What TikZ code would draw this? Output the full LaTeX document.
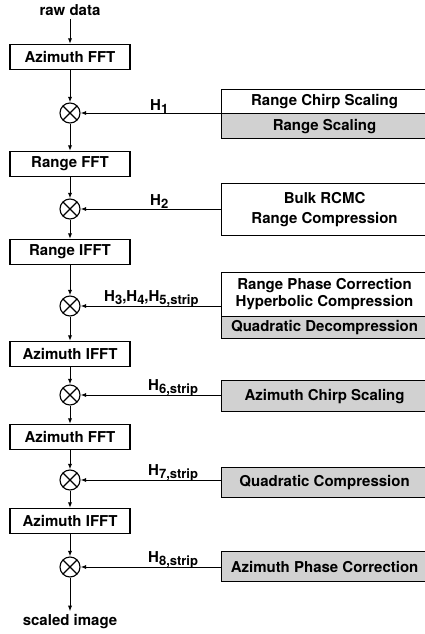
\documentclass[tikz,border=0pt]{standalone}
\usepackage{fontspec}
\setmainfont{TeX Gyre Heros}
\usetikzlibrary{arrows.meta,positioning,calc}

\newcommand{\hsub}[1]{H\raisebox{-0.45ex}{\fontsize{13}{13}\selectfont #1}}

\begin{document}
\begin{tikzpicture}[x=1pt,y=-1pt,
  every node/.style={font=\fontsize{15}{17}\selectfont\bfseries},
  op/.style={draw=black,line width=1.1pt,minimum width=120pt,minimum height=25pt,inner sep=0pt},
  mul/.style={draw=black,circle,line width=1.1pt,minimum size=20pt,inner sep=0pt,
    path picture={\draw[line width=1.1pt] (path picture bounding box.north west) -- (path picture bounding box.south east)
      (path picture bounding box.north east) -- (path picture bounding box.south west);}},
  fn/.style={draw=black,line width=1.1pt,minimum width=206pt,inner sep=0pt,anchor=north west,align=center},
  shd/.style={fn,fill=black!18},
  lb/.style={anchor=base west,inner sep=0pt},
  ar/.style={-{Latex[length=2mm]},line width=1pt}]
\useasboundingbox (0,0) rectangle (425,634);
% processing chain
\node (raw) at (70,10) {raw data};
\node[op] (az1) at (70,57) {Azimuth FFT};
\node[mul] (c1) at (70,113) {};
\node[op] (rfft) at (70,164) {Range FFT};
\node[mul] (c2) at (70,209) {};
\node[op] (rifft) at (70,252) {Range IFFT};
\node[mul] (c3) at (70,306) {};
\node[op] (aifft1) at (70,354) {Azimuth IFFT};
\node[mul] (c4) at (70,395) {};
\node[op] (afft2) at (70,437) {Azimuth FFT};
\node[mul] (c5) at (70,480) {};
\node[op] (aifft2) at (70,521) {Azimuth IFFT};
\node[mul] (c6) at (70,567) {};
\node (out) at (70,622) {scaled image};
% phase functions
\node[fn,minimum height=24pt] (b1a) at (221,89) {Range Chirp Scaling};
\node[shd,minimum height=25pt] (b1b) at (221,113) {Range Scaling};
\node[fn,minimum height=52pt] (b2) at (221,183) {Bulk RCMC\\[3pt]Range Compression};
\node[fn,minimum height=44pt] (b3a) at (221,272) {Range Phase Correction\\Hyperbolic Compression};
\node[shd,minimum height=22pt] (b3b) at (221,316) {Quadratic Decompression};
\node[shd,minimum height=31pt] (b4) at (221,380) {Azimuth Chirp Scaling};
\node[shd,minimum height=30pt] (b5) at (221,467) {Quadratic Compression};
\node[shd,minimum height=30pt] (b6) at (221,551) {Azimuth Phase Correction};
% labels
\node[lb] (h1) at (150,110) {\hsub{1}};
\node[lb] (h2) at (150,205) {\hsub{2}};
\node[lb] (h3) at (104,301) {\hsub{3},\hsub{4},\hsub{5,strip}};
\node[lb] (h6) at (148,390) {\hsub{6,strip}};
\node[lb] (h7) at (148,475) {\hsub{7,strip}};
\node[lb] (h8) at (148,562) {\hsub{8,strip}};
\draw[ar] (raw) -- (az1); \draw[ar] (az1) -- (c1); \draw[ar] (c1) -- (rfft); \draw[ar] (rfft) -- (c2);
\draw[ar] (c2) -- (rifft); \draw[ar] (rifft) -- (c3); \draw[ar] (c3) -- (aifft1); \draw[ar] (aifft1) -- (c4);
\draw[ar] (c4) -- (afft2); \draw[ar] (afft2) -- (c5); \draw[ar] (c5) -- (aifft2); \draw[ar] (aifft2) -- (c6);
\draw[ar] (c6) -- (out);
\draw[ar] (c1 -| b1b.west) -- (c1); \draw[ar] (c2 -| b2.west) -- (c2); \draw[ar] (c3 -| b3a.west) -- (c3);
\draw[ar] (c4 -| b4.west) -- (c4); \draw[ar] (c5 -| b5.west) -- (c5); \draw[ar] (c6 -| b6.west) -- (c6);
\end{tikzpicture}
\end{document}
